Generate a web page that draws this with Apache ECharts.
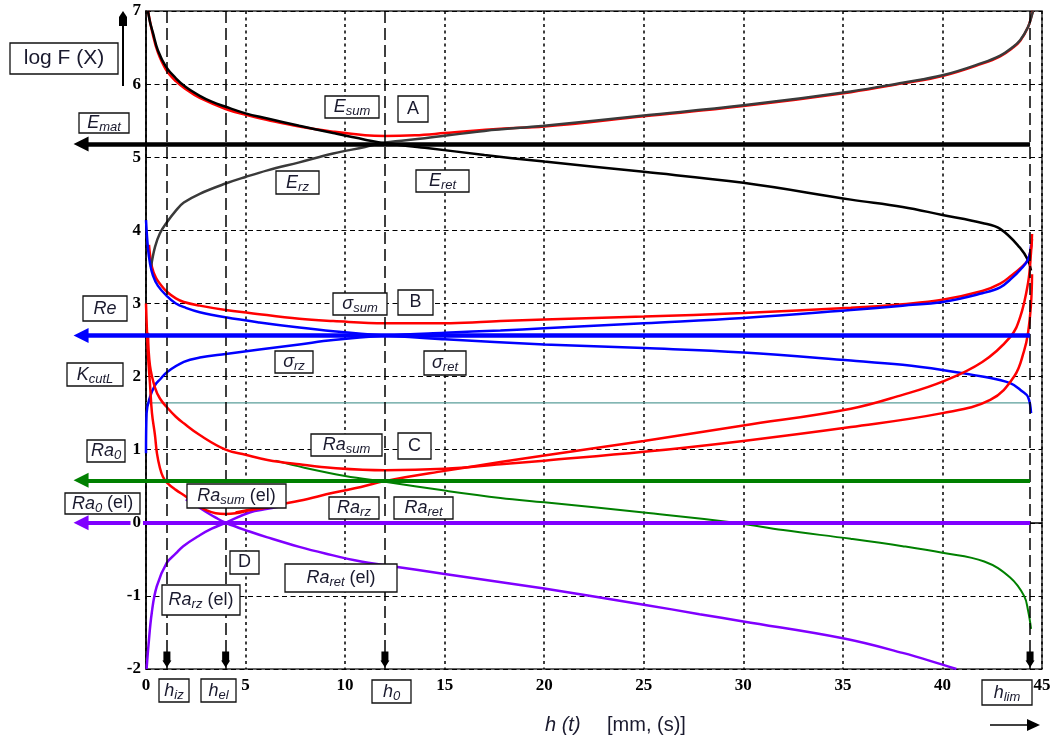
<!DOCTYPE html>
<html><head><meta charset="utf-8">
<script src="https://cdn.jsdelivr.net/npm/echarts@6/dist/echarts.min.js"></script>
<style>html,body{margin:0;padding:0;background:#fff}#c{width:1058px;height:742px}</style>
</head><body><div id="c"></div>
<script>
// ---------- DATA ----------
const xTicks = [0, 5, 10, 15, 20, 25, 30, 35, 40, 45];
const yTicks = [-2, -1, 0, 1, 2, 3, 4, 5, 6, 7];
const hMarks = [1.05, 4.0, 12.0, 44.4];          // h_iz, h_el, h_0, h_lim
const E_mat = 5.18, Re = 2.56, Ra0 = 0.58, Ra0_el = 0.0, K_cutL = 1.64;

const E_ret = [[0.1,7.0],[0.2,6.85],[0.35,6.7],[0.6,6.46],[1.0,6.24],[1.5,6.08],[2.0,5.96],[2.7,5.84],[3.3,5.76],[4.0,5.69],[5.0,5.6],[6.1,5.53],[7.7,5.43],[9.4,5.33],[11,5.24],[12,5.19],[14,5.13],[17,5.03],[20,4.94],[25,4.8],[30,4.65],[35.4,4.42],[38,4.32],[40,4.21],[42,4.1],[42.9,4.02],[43.9,3.76],[44.3,3.59],[44.45,3.45]];
const E_rz = [[0.25,3.5],[0.45,3.77],[0.7,3.96],[1.05,4.11],[1.5,4.27],[1.9,4.38],[2.7,4.5],[4.0,4.64],[5,4.73],[6.1,4.82],[7.7,4.93],[9.4,5.05],[11,5.14],[12,5.2],[14,5.26],[17,5.36],[20,5.43],[25,5.57],[30,5.71],[35.4,5.9],[38,6.02],[40,6.12],[42,6.29],[42.9,6.39],[43.5,6.5],[43.9,6.6],[44.3,6.78],[44.5,6.95],[44.55,7.0]];
const E_sum = [[0.1,7.0],[0.35,6.67],[0.6,6.43],[1.0,6.2],[1.5,6.04],[2.0,5.93],[2.7,5.81],[4.0,5.66],[5,5.58],[6.1,5.51],[7.7,5.42],[9.4,5.35],[11,5.3],[12,5.29],[13.5,5.3],[15,5.33],[17.8,5.39],[20,5.42],[25,5.56],[30,5.7],[35.4,5.89],[38,6.01],[40,6.11],[42,6.28],[42.9,6.38],[43.5,6.49],[43.9,6.59],[44.3,6.78],[44.5,6.96],[44.55,7.0]];

const sig_ret = [[0,4.14],[0.1,3.75],[0.2,3.55],[0.35,3.38],[0.6,3.24],[1.05,3.1],[1.5,3.0],[2.0,2.94],[2.7,2.88],[4.0,2.81],[5.7,2.74],[7.7,2.67],[9.4,2.62],[12,2.56],[15,2.51],[20,2.44],[25,2.39],[30,2.33],[35.4,2.22],[38,2.16],[40,2.09],[42,2.0],[43.4,1.91],[44,1.8],[44.3,1.72],[44.45,1.5]];
const sig_rz = [[0,0.95],[0.03,1.5],[0.2,1.72],[0.45,1.88],[0.7,1.96],[1.05,2.06],[1.9,2.2],[2.7,2.26],[4.0,2.31],[5.7,2.37],[7.7,2.44],[9.4,2.5],[12,2.56],[15,2.6],[17.8,2.63],[20,2.66],[25,2.73],[30,2.8],[35.4,2.91],[38,2.97],[40,3.02],[42,3.14],[42.9,3.22],[43.5,3.35],[43.9,3.46],[44.3,3.6],[44.45,3.8]];
const sig_sum = [[0.15,3.8],[0.3,3.5],[0.5,3.35],[0.7,3.27],[1.05,3.16],[1.5,3.07],[1.9,3.02],[2.7,2.97],[4,2.91],[5.2,2.87],[7.7,2.79],[9.4,2.76],[12,2.73],[15.3,2.73],[17.8,2.76],[20,2.78],[25,2.82],[30,2.87],[35.4,2.94],[38,2.99],[40,3.05],[42,3.17],[42.9,3.27],[43.5,3.39],[43.9,3.48],[44.3,3.6],[44.5,3.88]];

const Ra_sum = [[0.1,2.6],[0.2,2.15],[0.45,1.85],[0.7,1.7],[1.05,1.58],[1.5,1.45],[1.9,1.36],[2.7,1.2],[4,1.0],[5,0.93],[6.1,0.86],[7.7,0.8],[9.4,0.75],[12,0.72],[15,0.74],[17.8,0.8],[20,0.85],[25,0.97],[30,1.12],[35.4,1.31],[40,1.5],[42.4,1.68],[43.6,2.0],[44.1,2.35],[44.3,2.6],[44.45,3.0],[44.5,3.4]];
const Ra_rz = [[4.5,0.14],[5.2,0.18],[6.1,0.22],[7.7,0.3],[9.4,0.41],[10.8,0.49],[12,0.57],[15,0.71],[17.8,0.83],[20,0.92],[25,1.12],[30,1.33],[35.4,1.56],[38,1.75],[40,1.93],[42,2.2],[43.4,2.54],[43.9,2.81],[44.3,3.28],[44.45,3.7],[44.5,3.95]];
const Ra_ret = [[6.5,0.85],[8,0.75],[10,0.64],[12,0.56],[15,0.44],[17.8,0.34],[20,0.28],[25,0.14],[29.6,0.0],[32,-0.1],[35.4,-0.22],[38,-0.32],[40,-0.41],[42.1,-0.53],[43.4,-0.75],[44.1,-1.0],[44.3,-1.2],[44.45,-1.45]];
const Ra_sum_el = [[0,3.0],[0.1,2.3],[0.2,1.9],[0.3,1.5],[0.45,1.2],[0.55,0.95],[0.7,0.75],[0.85,0.63],[1.05,0.55],[1.5,0.45],[2.05,0.35],[2.5,0.25],[3.05,0.17],[3.5,0.13],[4,0.12],[4.5,0.13],[5.2,0.17],[6.1,0.21],[7,0.26]];
const Ra_rz_el = [[0.03,-2.0],[0.12,-1.69],[0.29,-1.23],[0.54,-0.87],[1.04,-0.55],[1.5,-0.42],[1.87,-0.32],[2.7,-0.17],[3.3,-0.08],[4.0,0],[5.2,0.14],[6.1,0.19],[7,0.24]];
const Ra_ret_el = [[2.0,0.32],[2.5,0.24],[3.0,0.15],[3.5,0.07],[4.0,0],[5.2,-0.12],[6.1,-0.2],[7.7,-0.33],[9,-0.42],[10.8,-0.53],[12,-0.58],[15,-0.7],[20,-0.9],[25,-1.12],[27.8,-1.25],[30,-1.35],[35,-1.58],[38,-1.78],[40,-1.94],[40.7,-2.0]];

// ---------- STYLE / LAYOUT ----------
const ARROW_X = -3.26;     // where the left arrowheads sit (outside the plot)
const MARK_Y = -1.87;      // small down-pointing markers on the h lines
const TXT = '#1a1a2e';
const FONT = 'Liberation Sans';

function curve(name, data, color, width, z) {
  return {type:'line', name, data, symbol:'none', showSymbol:false, smooth:0.4,
          lineStyle:{color, width}, z: z || 3, silent:true, animation:false};
}
function refLine(name, v, color, width) {
  return {type:'lines', name, coordinateSystem:'cartesian2d', clip:false, silent:true, animation:false,
    symbol:['none','triangle'], symbolSize:15, z:6,
    data:[{coords:[[hMarks[3], v], [ARROW_X, v]]}],
    lineStyle:{color, width, opacity:1, curveness:0}, itemStyle:{color}};
}

const rich = {
  m:{fontFamily:FONT, fontStyle:'italic', fontSize:18, lineHeight:22, verticalAlign:'middle', fill:TXT},
  s:{fontFamily:FONT, fontStyle:'italic', fontSize:13, lineHeight:12, verticalAlign:'bottom', fill:TXT},
  n:{fontFamily:FONT, fontSize:18, lineHeight:22, verticalAlign:'middle', fill:TXT},
  L:{fontFamily:FONT, fontSize:21, lineHeight:24, verticalAlign:'middle', fill:TXT}
};
function box(l, t, r, b, text) {
  return {type:'group', children:[
    {type:'rect', z:50, shape:{x:l, y:t, width:r-l, height:b-t}, style:{fill:'#fff', stroke:'#111', lineWidth:1.3}},
    {type:'text', z:51, style:{x:(l+r)/2, y:(t+b)/2, text, rich, align:'center', verticalAlign:'middle', fill:TXT}}
  ]};
}

const graphics = [
  box(10,43,118,74,'{L|log F (X)}'),
  box(79,113,129,133,'{m|E}{s|mat}'),
  box(83,296,127,321,'{m|Re}'),
  box(67,363,123,386,'{m|K}{s|cutL}'),
  box(87,440,125,462,'{m|Ra}{s|0}'),
  box(65,493,140,514,'{m|Ra}{s|0}{n| (el)}'),
  box(325,96,379,118,'{m|E}{s|sum}'),
  box(398,96,428,122,'{n|A}'),
  box(276,171,319,194,'{m|E}{s|rz}'),
  box(416,170,469,192,'{m|E}{s|ret}'),
  box(333,293,387,315,'{m|σ}{s|sum}'),
  box(398,290,433,315,'{n|B}'),
  box(275,351,313,373,'{m|σ}{s|rz}'),
  box(424,351,466,375,'{m|σ}{s|ret}'),
  box(311,434,382,456,'{m|Ra}{s|sum}'),
  box(398,433,431,459,'{n|C}'),
  box(329,497,379,519,'{m|Ra}{s|rz}'),
  box(394,497,453,519,'{m|Ra}{s|ret}'),
  box(187,484,286,508,'{m|Ra}{s|sum}{n| (el)}'),
  box(230,551,259,574,'{n|D}'),
  box(285,564,397,592,'{m|Ra}{s|ret}{n| (el)}'),
  box(162,585,240,615,'{m|Ra}{s|rz}{n| (el)}'),
  box(159,679,189,702,'{m|h}{s|iz}'),
  box(201,679,236,702,'{m|h}{s|el}'),
  box(372,680,411,703,'{m|h}{s|0}'),
  box(982,680,1032,705,'{m|h}{s|lim}'),
  // y-axis arrow
  {type:'line', z:40, shape:{x1:123,y1:86,x2:123,y2:20}, style:{stroke:'#000', lineWidth:2}},
  {type:'polygon', z:40, shape:{points:[[119,26],[127,26],[127,17],[123,11],[119,17]]}, style:{fill:'#000'}},
  // x-axis title and arrow
  {type:'text', z:40, style:{x:545, y:725, text:'h (t)', font:'italic 20px "Liberation Sans"', fill:TXT, verticalAlign:'middle'}},
  {type:'text', z:40, style:{x:607, y:725, text:'[mm, (s)]', font:'20px "Liberation Sans"', fill:TXT, verticalAlign:'middle'}},
  {type:'line', z:40, shape:{x1:990,y1:725,x2:1030,y2:725}, style:{stroke:'#000', lineWidth:1.5}},
  {type:'polygon', z:40, shape:{points:[[1027,719],[1040,725],[1027,731]]}, style:{fill:'#000'}}
];

const labelStyle = {color:'#000', fontFamily:'Liberation Serif', fontWeight:'bold', fontSize:17};
const chart = echarts.init(document.getElementById('c'), null, {renderer:'canvas'});
chart.setOption({
  animation:false,
  backgroundColor:'#fff',
  grid:{left:146, top:11, width:896, height:658, show:true, borderColor:'#333', borderWidth:1.5, backgroundColor:'transparent'},
  xAxis:{type:'value', min:xTicks[0], max:xTicks[xTicks.length-1], interval:5,
    axisLine:{lineStyle:{color:'#000', width:1.5}}, axisTick:{show:false},
    axisLabel:Object.assign({margin:8}, labelStyle),
    splitLine:{show:true, lineStyle:{color:'#000', type:[3,3.5], width:1.5}}},
  yAxis:[
    {type:'value', min:yTicks[0], max:yTicks[yTicks.length-1], interval:1,
     axisLine:{show:true, lineStyle:{color:'#000', width:1.5}}, axisTick:{show:false},
     axisLabel:{show:false},
     splitLine:{show:true, lineStyle:{color:'#000', type:[5,3.5], width:1}}},
    {type:'value', position:'left', z:10, min:yTicks[0], max:yTicks[yTicks.length-1], interval:1,
     axisLine:{show:false}, axisTick:{show:false}, splitLine:{show:false},
     axisLabel:Object.assign({margin:3, backgroundColor:'#fff', padding:[1,2,1,2]}, labelStyle)}
  ],
  graphic:graphics,
  series:[
    {type:'line', name:'K_cutL', data:[[0,K_cutL],[hMarks[3],K_cutL]], symbol:'none', lineStyle:{color:'#5a9e9a', width:1.2}, z:2, silent:true,
     markLine:{silent:true, symbol:'none', label:{show:false}, lineStyle:{color:'#000', type:[12,5], width:1.5},
       data:hMarks.map(v => ({xAxis:v}))}},
    curve('E_sum', E_sum, '#ff0000', 2.5, 3),
    curve('E_rz', E_rz, '#3a3a3a', 2.5, 4),
    curve('E_ret', E_ret, '#000000', 2.5, 4),
    curve('sig_sum', sig_sum, '#ff0000', 2.5, 3),
    curve('sig_rz', sig_rz, '#0000ff', 2.5, 4),
    curve('sig_ret', sig_ret, '#0000ff', 2.5, 4),
    curve('Ra_ret', Ra_ret, '#008000', 2, 3),
    curve('Ra_sum', Ra_sum, '#ff0000', 2.5, 4),
    curve('Ra_rz_el', Ra_rz_el, '#8000ff', 2.5, 3),
    curve('Ra_ret_el', Ra_ret_el, '#8000ff', 2.5, 3),
    curve('Ra_sum_el', Ra_sum_el, '#ff0000', 2.5, 4),
    curve('Ra_rz', Ra_rz, '#ff0000', 2.5, 4),
    refLine('E_mat', E_mat, '#000000', 4.5),
    refLine('Re', Re, '#0000ff', 4.5),
    refLine('Ra0', Ra0, '#008000', 4),
    refLine('Ra0_el', Ra0_el, '#8000ff', 4),
    {type:'scatter', name:'hMarkers', data:hMarks.map(h => [h, MARK_Y]), symbol:'path://M1,0 L8,0 L8,9 L9,9 L4.5,16 L0,9 L1,9 Z',
     symbolSize:[9,16], itemStyle:{color:'#000', opacity:1}, z:7, silent:true}
  ]
});
</script>
</body></html>
